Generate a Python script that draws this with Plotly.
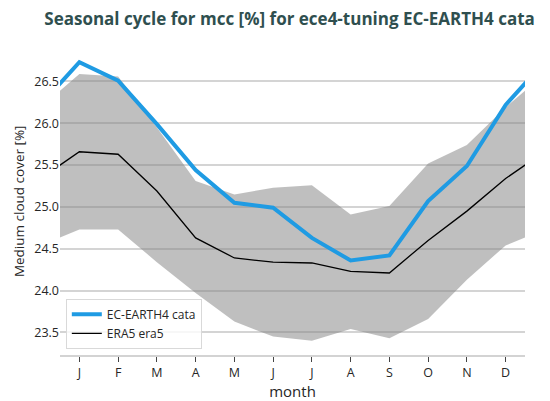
"""Seasonal cycle chart for mcc [%] - EC-EARTH4 vs ERA5."""

import plotly.graph_objects as go


# Data
months = [1, 2, 3, 4, 5, 6, 7, 8, 9, 10, 11, 12]
month_labels = ["J", "F", "M", "A", "M", "J", "J", "A", "S", "O", "N", "D"]

ece4_cata = [26.73, 26.51, 25.99, 25.44, 25.05, 24.99,
             24.63, 24.36, 24.42, 25.07, 25.49, 26.22]
era5 = [25.66, 25.63, 25.19, 24.63, 24.39, 24.34,
        24.33, 24.23, 24.21, 24.60, 24.95, 25.34]
era5_upper = [26.59, 26.56, 25.95, 25.31, 25.15, 25.23,
              25.26, 24.91, 25.01, 25.52, 25.74, 26.19]
era5_lower = [24.73, 24.73, 24.34, 23.97, 23.63, 23.45,
              23.40, 23.54, 23.43, 23.66, 24.13, 24.54]


def cyclic(values):
    """Wrap a monthly series with December before and January after."""
    return [values[-1]] + list(values) + [values[0]]


x_cyc = [0] + months + [13]

title = "Seasonal cycle for mcc [%] for ece4-tuning EC-EARTH4 cata"
font_family = "Open Sans, DejaVu Sans, sans-serif"
text_color = "#262626"

fig = go.Figure()

# ERA5 spread (lower edge, then upper edge filled to it)
fig.add_trace(go.Scatter(
    x=x_cyc,
    y=cyclic(era5_lower),
    mode="lines",
    line={"width": 0},
    showlegend=False,
    hoverinfo="skip"
))
fig.add_trace(go.Scatter(
    x=x_cyc,
    y=cyclic(era5_upper),
    mode="lines",
    line={"width": 0},
    fill="tonexty",
    fillcolor="rgba(128,128,128,0.5)",
    showlegend=False,
    hoverinfo="skip"
))

# EC-EARTH4 cata
fig.add_trace(go.Scatter(
    x=x_cyc,
    y=cyclic(ece4_cata),
    mode="lines",
    line={"width": 4, "color": "#1f9be3"},
    name="EC-EARTH4 cata"
))

# ERA5
fig.add_trace(go.Scatter(
    x=x_cyc,
    y=cyclic(era5),
    mode="lines",
    line={"width": 1.3, "color": "black"},
    name="ERA5 era5"
))

fig.update_layout(
    width=550,
    height=401,
    paper_bgcolor="white",
    plot_bgcolor="white",
    font={"family": font_family, "size": 12.5, "color": text_color},
    title={
        "text": f"<b>{title}</b>",
        "font": {"size": 17, "color": "#2f4f4f"},
        "x": 0.512,
        "xanchor": "center",
        "y": 0.972,
        "yanchor": "middle"
    },
    xaxis={
        "title": {"text": "month", "standoff": 6},
        "range": [0.5, 12.5],
        "tickvals": months,
        "ticktext": month_labels,
        "showgrid": False,
        "zeroline": False,
        "showline": True,
        "linecolor": "#d3d3d3",
        "linewidth": 1.5,
        "ticks": "outside",
        "ticklen": 5,
        "tickcolor": "#444444",
        "fixedrange": True
    },
    yaxis={
        "range": [23.23, 26.9],
        "dtick": 0.5,
        "tickformat": ".1f",
        "showgrid": True,
        "gridcolor": "#d4d4d4",
        "gridwidth": 1.5,
        "zeroline": False,
        "showline": False,
        "ticks": "",
        "fixedrange": True
    },
    annotations=[{
        "text": "Medium cloud cover [%]",
        "textangle": -90,
        "xref": "paper",
        "yref": "paper",
        "x": -0.089,
        "y": 0.5,
        "xanchor": "center",
        "yanchor": "middle",
        "showarrow": False,
        "font": {"size": 13.5, "color": text_color}
    }],
    legend={
        "x": 0.0125,
        "y": 0.02,
        "xanchor": "left",
        "yanchor": "bottom",
        "traceorder": "normal",
        "itemwidth": 30,
        "bgcolor": "rgba(255,255,255,0.8)",
        "bordercolor": "#d9d9d9",
        "borderwidth": 1,
        "font": {"size": 12, "color": text_color},
        "tracegroupgap": 0
    },
    margin={"l": 52, "r": 33, "t": 40, "b": 52}
)

fig.write_html("out.html")
